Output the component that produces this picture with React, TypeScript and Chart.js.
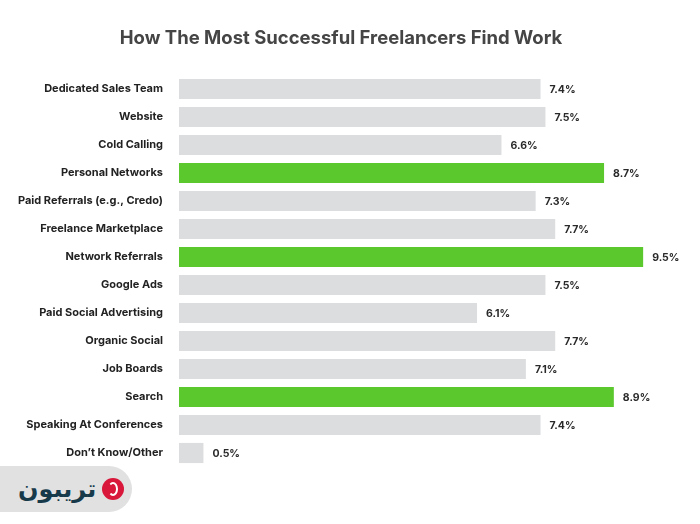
import React, { useEffect, useRef } from "react";
import { Chart, registerables } from "chart.js";

Chart.register(...registerables);

const titleText = "How The Most Successful Freelancers Find Work";
const categories = [
  "Dedicated Sales Team",
  "Website",
  "Cold Calling",
  "Personal Networks",
  "Paid Referrals (e.g., Credo)",
  "Freelance Marketplace",
  "Network Referrals",
  "Google Ads",
  "Paid Social Advertising",
  "Organic Social",
  "Job Boards",
  "Search",
  "Speaking At Conferences",
  "Don\u2019t Know/Other",
];
const values = [7.4, 7.5, 6.6, 8.7, 7.3, 7.7, 9.5, 7.5, 6.1, 7.7, 7.1, 8.9, 7.4, 0.5];
const highlighted = ["Personal Networks", "Network Referrals", "Search"];

const GRAY = "#dcdddf";
const GREEN = "#5bc82d";

export default function App() {
  const ref = useRef<HTMLCanvasElement | null>(null);

  useEffect(() => {
    document.body.style.margin = "0";
    const canvas = ref.current;
    if (!canvas) return;

    const valueLabels = {
      id: "valueLabels",
      afterDatasetsDraw(chart: any) {
        const ctx = chart.ctx;
        const meta = chart.getDatasetMeta(0);
        ctx.save();
        ctx.font = "bold 10.5px Inter, 'Noto Sans', sans-serif";
        ctx.fillStyle = "#2a2a2a";
        ctx.textAlign = "left";
        ctx.textBaseline = "middle";
        meta.data.forEach((bar: any, i: number) => {
          ctx.fillText(values[i].toFixed(1) + "%", bar.x + 9, bar.y + 1);
        });
        ctx.restore();
      },
    };

    const titlePlugin = {
      id: "customTitle",
      afterDraw(chart: any) {
        const ctx = chart.ctx;
        ctx.save();
        ctx.font = "bold 18.5px Inter, 'Noto Sans', sans-serif";
        ctx.fillStyle = "#454545";
        ctx.textAlign = "center";
        ctx.textBaseline = "middle";
        ctx.fillText(titleText, 341, 38);
        ctx.restore();
      },
    };

    const chart = new Chart(canvas, {
      type: "bar",
      data: {
        labels: categories,
        datasets: [
          {
            data: values,
            backgroundColor: categories.map((c) => (highlighted.includes(c) ? GREEN : GRAY)),
            borderWidth: 0,
            barPercentage: 0.72,
            categoryPercentage: 1,
          },
        ],
      },
      options: {
        indexAxis: "y",
        animation: false,
        responsive: false,
        maintainAspectRatio: false,
        layout: { padding: { top: 75, bottom: 57, left: 0, right: 8 } },
        plugins: {
          legend: { display: false },
          title: { display: false },
          tooltip: { enabled: false },
        },
        scales: {
          x: {
            display: false,
            min: 0,
            max: 10.5,
          },
          y: {
            grid: { display: false },
            border: { display: false },
            afterFit: (s: any) => {
              s.width = 179;
            },
            ticks: {
              padding: 8,
              color: "#222222",
              font: { family: "Inter, 'Noto Sans', sans-serif", size: 11, weight: "bold" },
            },
          },
        },
      },
      plugins: [valueLabels, titlePlugin],
    });

    return () => chart.destroy();
  }, []);

  return (
    <div style={{ position: "relative", width: 700, height: 524, background: "#ffffff" }}>
      <canvas ref={ref} width={700} height={524} style={{ display: "block" }} />
      <div
        style={{
          position: "absolute",
          left: 0,
          top: 466,
          width: 132,
          height: 46,
          background: "#e1e1e2",
          borderRadius: "0 23px 23px 0",
          display: "flex",
          alignItems: "center",
          justifyContent: "flex-start",
          paddingLeft: 18,
          boxSizing: "border-box",
        }}
      >
        <span
          style={{
            fontFamily: "'DejaVu Sans', 'Noto Sans', sans-serif",
            fontWeight: "bold",
            fontSize: 24,
            color: "#173a4a",
            direction: "rtl",
            lineHeight: "46px",
          }}
        >
          تریبون
        </span>
        <div
          style={{
            marginLeft: 6,
            width: 22,
            height: 22,
            borderRadius: "50%",
            background: "#d8173a",
            position: "relative",
            overflow: "hidden",
          }}
        >
          <div
            style={{
              position: "absolute",
              left: 6,
              top: 4,
              width: 10,
              height: 14,
              borderRadius: "50%",
              border: "2px solid #ffffff",
              borderLeftColor: "transparent",
              boxSizing: "border-box",
            }}
          />
        </div>
      </div>
    </div>
  );
}
